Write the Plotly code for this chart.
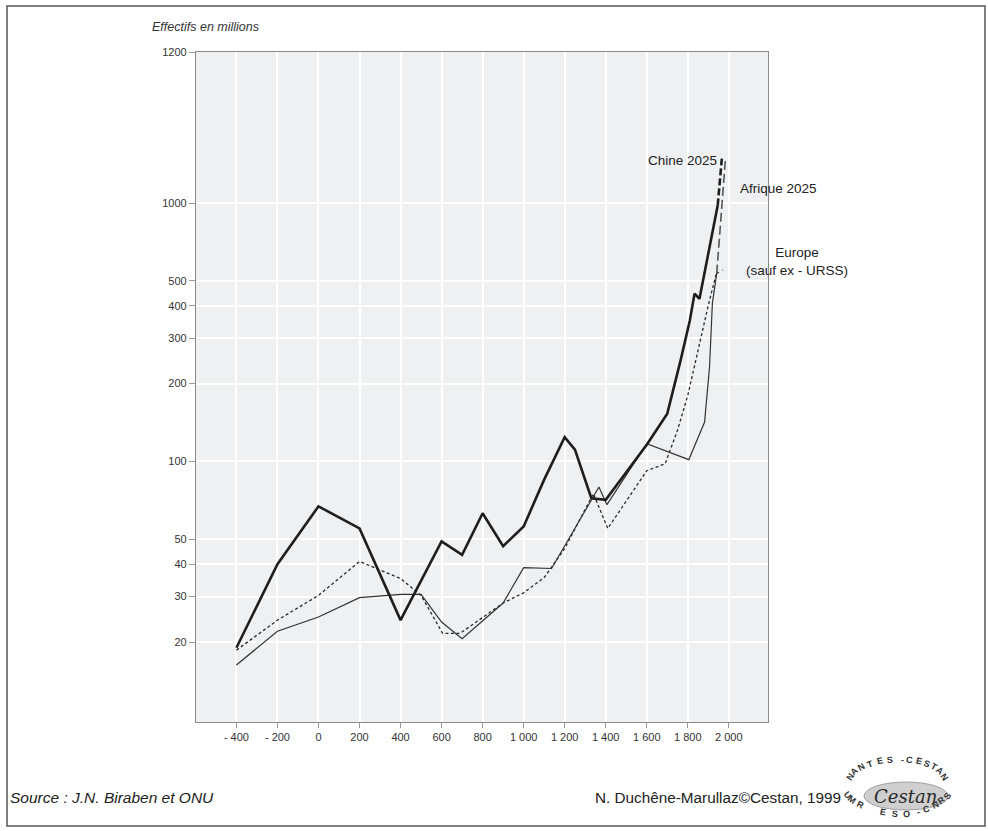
import math
import plotly.graph_objects as go

# ---------------- data ----------------
china_years = [-400, -200, 0, 200, 400, 600, 700, 800, 900, 1000, 1100, 1200, 1250,
               1330, 1400, 1600, 1700, 1725, 1765, 1810, 1833, 1857, 1946]
china_pop = [19, 40, 67, 55, 24.3, 49, 43.5, 63, 47, 56, 85, 124, 111,
             72, 71, 116, 153, 183, 246, 351, 446, 426, 980]

africa_years = [-400, -200, 0, 200, 400, 500, 600, 700, 900, 1000, 1136, 1330, 1367,
                1406, 1600, 1805, 1882, 1906, 1920, 1941]
africa_pop = [16.3, 22, 25, 29.7, 30.6, 30.6, 23.9, 20.6, 28.3, 38.8, 38.5, 71.3, 79.6,
              68, 117, 101.6, 142, 232, 410, 533]

europe_years = [-400, -200, 0, 200, 400, 500, 605, 690, 900, 1000, 1100, 1200, 1340,
                1410, 1600, 1690, 1750, 1800, 1850, 1900, 1939]
europe_pop = [18.6, 24.3, 30.3, 41, 35.2, 30.3, 21.6, 21.6, 28.3, 31, 35.5, 46, 75,
              55, 92, 98, 132, 180, 269, 402, 533]

# projections to 2025
china_proj_years = [1946, 1966]
china_proj_pop = [980, 1486]
africa_proj_years = [1941, 1983]
africa_proj_pop = [533, 1462]
europe_proj_years = [1939, 1972]
europe_proj_pop = [533, 550]

x_tickvals = [-400, -200, 0, 200, 400, 600, 800, 1000, 1200, 1400, 1600, 1800, 2000]
x_ticktext = ["- 400", "- 200", "0", "200", "400", "600", "800", "1 000", "1 200",
              "1 400", "1 600", "1 800", "2 000"]
y_tickvals = [20, 30, 40, 50, 100, 200, 300, 400, 500, 1000, 3838]
y_ticktext = ["20", "30", "40", "50", "100", "200", "300", "400", "500", "1000", "1200"]

# ---------------- figure ----------------
W, H = 988, 831
L, R, T, B = 196, 220, 52, 109
FONT = "Liberation Sans, Arial, sans-serif"
INK = "#222222"

fig = go.Figure()

fig.add_trace(go.Scatter(x=europe_years, y=europe_pop, mode="lines",
                         line=dict(color="#2a2a2a", width=1.3, dash="3px,2.5px"),
                         name="Europe"))
fig.add_trace(go.Scatter(x=africa_years, y=africa_pop, mode="lines",
                         line=dict(color="#333333", width=1.2), name="Afrique"))
fig.add_trace(go.Scatter(x=china_years, y=china_pop, mode="lines",
                         line=dict(color="#1e1e1e", width=2.6), name="Chine"))

fig.add_trace(go.Scatter(x=europe_proj_years, y=europe_proj_pop, mode="lines",
                         line=dict(color="#333333", width=1.2, dash="3px,4px")))
fig.add_trace(go.Scatter(x=africa_proj_years, y=africa_proj_pop, mode="lines",
                         line=dict(color="#555555", width=1.6, dash="9px,4px")))
fig.add_trace(go.Scatter(x=china_proj_years, y=china_proj_pop, mode="lines",
                         line=dict(color="#1e1e1e", width=2.6, dash="7px,3px")))

fig.update_traces(hoverinfo="skip", showlegend=False, cliponaxis=False)

fig.update_xaxes(range=[-597, 2191], tickmode="array", tickvals=x_tickvals,
                 ticktext=x_ticktext, showgrid=True, gridcolor="#ffffff", gridwidth=1.5,
                 zeroline=False, showline=True, linecolor="#8a8a8a", linewidth=1.2,
                 mirror=True, ticks="outside", ticklen=5, tickcolor="#9a9a9a",
                 tickfont=dict(family=FONT, size=11, color="#333333"))
fig.update_yaxes(type="log", range=[0.9914, 3.5845], tickmode="array",
                 tickvals=y_tickvals, ticktext=y_ticktext, showgrid=True,
                 gridcolor="#ffffff", gridwidth=1.5, zeroline=False, showline=True,
                 linecolor="#8a8a8a", linewidth=1.2, mirror=True, ticks="outside",
                 ticklen=6, tickcolor="#9a9a9a",
                 tickfont=dict(family=FONT, size=11, color="#333333"))

def px_to_paper(px, py):
    return (px - L) / (W - L - R), (H - B - py) / (H - T - B)

ann = []
# series labels anchored to projection ends
ann.append(dict(x=china_proj_years[-1], y=math.log10(china_proj_pop[-1]),
                xref="x", yref="y", text="Chine 2025", showarrow=False,
                xanchor="right", yanchor="middle", xshift=-3, yshift=-2,
                font=dict(family=FONT, size=13.5, color=INK)))
ann.append(dict(x=africa_proj_years[-1], y=math.log10(africa_proj_pop[-1]),
                xref="x", yref="y", text="Afrique 2025", showarrow=False,
                xanchor="left", yanchor="middle", xshift=13, yshift=-28,
                font=dict(family=FONT, size=13.5, color=INK)))
ann.append(dict(x=europe_proj_years[-1], y=math.log10(europe_proj_pop[-1]),
                xref="x", yref="y", text="Europe<br>(sauf ex - URSS)", showarrow=False,
                xanchor="center", yanchor="middle", xshift=74, yshift=9,
                font=dict(family=FONT, size=13.5, color=INK)))

# axis title
ax, ay = px_to_paper(150, 27)
ann.append(dict(x=ax, y=ay, xref="paper", yref="paper", text="<i>Effectifs en millions</i>",
                showarrow=False, xanchor="left", yanchor="middle",
                font=dict(family=FONT, size=12.5, color="#333333")))
# footer
sx, sy = px_to_paper(8, 797)
ann.append(dict(x=sx, y=sy, xref="paper", yref="paper",
                text="<i>Source : J.N. Biraben et ONU</i>", showarrow=False,
                xanchor="left", yanchor="middle",
                font=dict(family=FONT, size=15.5, color=INK)))
cx, cy = px_to_paper(843, 797)
ann.append(dict(x=cx, y=cy, xref="paper", yref="paper",
                text="N. Duchêne-Marullaz©Cestan, 1999", showarrow=False,
                xanchor="right", yanchor="middle",
                font=dict(family=FONT, size=15.3, color=INK)))

# logo
lx, ly = px_to_paper(905, 796)
ann.append(dict(x=lx, y=ly, xref="paper", yref="paper", text="<i>Cestan</i>",
                showarrow=False, xanchor="center", yanchor="middle",
                font=dict(family="DejaVu Serif, serif", size=18, color="#2a2a2a")))
top = "NANTES-CESTAN"
bot = "UMR ESO-CNRS"
ccx, ccy = 906, 795
n = len(top)
for i, ch in enumerate(top):
    rx, ry = 50, 28
    a = math.radians(160 - i * (140 / (n - 1)))
    px = ccx + rx * math.cos(a)
    py = ccy - ry * math.sin(a)
    rot = math.degrees(math.atan2(ry * math.cos(a), rx * math.sin(a)))
    tx, ty = px_to_paper(px, py)
    ann.append(dict(x=tx, y=ty, xref="paper", yref="paper", text="<b>%s</b>" % ch,
                    showarrow=False, textangle=rot,
                    font=dict(family=FONT, size=9, color="#333333")))
m = len(bot)
for i, ch in enumerate(bot):
    rx, ry = 53, 26
    a = math.radians(200 + i * (140 / (m - 1)))
    px = ccx + rx * math.cos(a)
    py = ccy - ry * math.sin(a)
    rot = math.degrees(math.atan2(-ry * math.cos(a), -rx * math.sin(a)))
    tx, ty = px_to_paper(px, py)
    ann.append(dict(x=tx, y=ty, xref="paper", yref="paper", text="<b>%s</b>" % ch,
                    showarrow=False, textangle=rot,
                    font=dict(family=FONT, size=9, color="#333333")))

shapes = []
# outer frame
shapes.append(dict(type="rect", xref="paper", yref="paper",
                   x0=px_to_paper(7, 0)[0], x1=px_to_paper(985, 0)[0],
                   y0=px_to_paper(0, 826)[1], y1=px_to_paper(0, 6)[1],
                   line=dict(color="#555555", width=1.5), fillcolor="rgba(0,0,0,0)",
                   layer="below"))
# logo ellipse
e0 = px_to_paper(864, 782)
e1 = px_to_paper(948, 810)
shapes.append(dict(type="circle", xref="paper", yref="paper", x0=e0[0], x1=e1[0],
                   y0=e1[1], y1=e0[1], line=dict(color="#a0a0a0", width=1),
                   fillcolor="#cfcfcf", layer="below"))

fig.update_layout(width=W, height=H, margin=dict(l=L, r=R, t=T, b=B),
                  paper_bgcolor="#ffffff", plot_bgcolor="#eff0f2",
                  annotations=ann, shapes=shapes, showlegend=False)

fig.write_html("out.html")
